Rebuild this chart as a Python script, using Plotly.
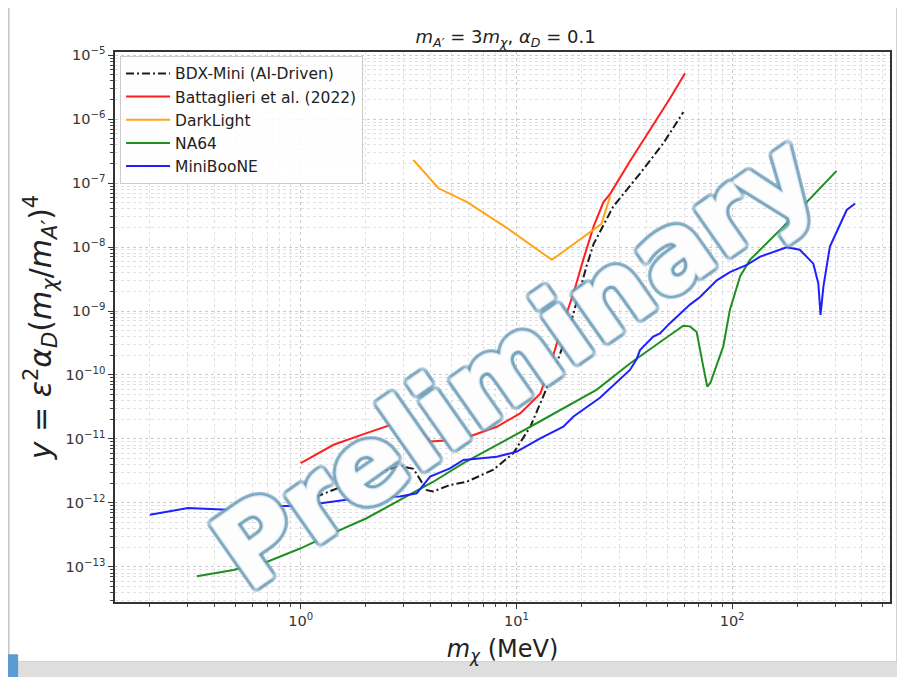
import math
import plotly.graph_objects as go

# ---------------- data ----------------
bdx_x = [1.0, 1.42, 2.02, 2.88, 3.33, 3.84, 4.12, 4.92, 5.89, 7.82, 9.68, 11.6, 12.9, 14.8,
         17.7, 21.1, 22.8, 25.3, 28.1, 37.4, 48.0, 59.4]
bdx_y = [1.0e-12, 1.58e-12, 2.57e-12, 3.8e-12, 3.4e-12, 1.58e-12, 1.51e-12, 1.9e-12, 2.14e-12,
         3.3e-12, 6.0e-12, 1.55e-11, 3.6e-11, 1.07e-10, 5.75e-10, 4.9e-9, 1.12e-8, 2.24e-8,
         4.3e-8, 1.41e-7, 4.2e-7, 1.29e-6]

bat_x = [1.0, 1.42, 2.02, 2.88, 3.33, 3.98, 4.92, 6.10, 8.11, 10.4, 12.9, 14.3, 15.9, 18.4,
         20.4, 22.8, 25.3, 27.2, 33.6, 43.2, 51.5, 60.5]
bat_y = [4.2e-12, 8.1e-12, 1.23e-11, 1.86e-11, 1.76e-11, 9.1e-12, 9.5e-12, 1.1e-11, 1.55e-11,
         2.5e-11, 5.1e-11, 1.35e-10, 4.5e-10, 1.9e-9, 6.3e-9, 2.1e-8, 5.0e-8, 6.8e-8, 2.2e-7,
         8.1e-7, 2.1e-6, 5.2e-6]

dl_x = [3.33, 4.35, 5.89, 9.02, 14.6, 22.8, 24.8, 27.2]
dl_y = [2.3e-7, 8.3e-8, 5.1e-8, 2.0e-8, 6.3e-9, 1.86e-8, 2.3e-8, 6.2e-8]

na64_x = [0.33, 0.488, 0.58, 0.70, 1.0, 1.42, 2.02, 2.88, 4.12, 5.68, 11.6, 23.6, 33.6, 48.0,
          59.4, 63.8, 68.5, 73.5, 76.7, 79.4, 84.9, 91.0, 97.7, 109, 121, 173, 305]
na64_y = [7.1e-14, 8.9e-14, 1.05e-13, 1.2e-13, 1.95e-13, 3.4e-13, 5.75e-13, 1.12e-12, 2.14e-12,
          4.17e-12, 1.55e-11, 5.9e-11, 1.51e-10, 3.55e-10, 5.9e-10, 5.75e-10, 4.7e-10, 1.35e-10,
          6.6e-11, 7.6e-11, 1.41e-10, 2.8e-10, 1.05e-9, 3.5e-9, 6.3e-9, 2.1e-8, 1.55e-7]

mb_x = [0.20, 0.30, 0.58, 0.70, 1.0, 1.42, 2.02, 2.88, 3.45, 3.98, 4.92, 5.68, 8.11, 10.0, 12.9,
        16.5, 18.4, 24.4, 33.6, 36.1, 37.4, 43.1, 46.3, 51.5, 63.8, 71.0, 84.9, 97.7, 117, 135,
        179, 206, 238, 251, 257, 265, 284, 340, 372]
mb_y = [6.5e-13, 8.3e-13, 7.5e-13, 8.9e-13, 8.9e-13, 1.05e-12, 1.23e-12, 1.26e-12, 1.41e-12,
        2.57e-12, 3.47e-12, 4.68e-12, 5.25e-12, 6.3e-12, 1.02e-11, 1.55e-11, 2.24e-11, 4.4e-11,
        1.2e-10, 1.78e-10, 2.45e-10, 3.98e-10, 4.47e-10, 6.46e-10, 1.26e-9, 1.66e-9, 3.02e-9,
        4.07e-9, 5.25e-9, 7.08e-9, 9.9e-9, 9.1e-9, 5.5e-9, 2.69e-9, 8.7e-10, 2.4e-9, 1.02e-8,
        3.8e-8, 4.8e-8]

x_tick_vals = [1, 10, 100]
x_tick_text = ["10<sup>0</sup>", "10<sup>1</sup>", "10<sup>2</sup>"]
y_exps = [-13, -12, -11, -10, -9, -8, -7, -6, -5]
y_tick_vals = [10.0 ** e for e in y_exps]
y_tick_text = ["10<sup>\u2212%d</sup>" % (-e) for e in y_exps]

x_minor = [m * 10.0 ** d for d in range(-1, 3) for m in range(2, 10)]
y_minor = [m * 10.0 ** d for d in range(-14, -4) for m in range(2, 10)]

FONT = "DejaVu Sans"
fig = go.Figure()

series = [
    ("BDX-Mini (AI-Driven)", bdx_x, bdx_y, "#1a1a1a", "8px,3px,2px,3px"),
    ("Battaglieri et al. (2022)", bat_x, bat_y, "#ff1f1f", "solid"),
    ("DarkLight", dl_x, dl_y, "#ffa51a", "solid"),
    ("NA64", na64_x, na64_y, "#1f8f1f", "solid"),
    ("MiniBooNE", mb_x, mb_y, "#1f1fff", "solid"),
]
for name, xs, ys, col, dash in series:
    fig.add_trace(go.Scatter(x=xs, y=ys, mode="lines", name=name, legendgroup=name,
                             line=dict(color=col, width=2, dash=dash)))

axis_common = dict(
    type="log", showline=True, linecolor="#333", linewidth=1.5, mirror=True,
    ticks="outside", ticklen=5, tickcolor="#333", tickwidth=1,
    showgrid=True, gridcolor="#cccccc", griddash="dot", gridwidth=1,
    tickfont=dict(family=FONT, size=14.5, color="#333"), zeroline=False,
)

fig.update_xaxes(**axis_common, range=[-0.861, 2.732], tickmode="array",
                 tickvals=x_tick_vals, ticktext=x_tick_text,
                 minor=dict(tickmode="array", tickvals=x_minor, ticks="outside", ticklen=3,
                            tickcolor="#444", showgrid=True, gridcolor="#e0e0e0", griddash="dot"),
                 title=dict(text="<i>m</i><sub><i>\u03c7</i></sub> (MeV)",
                            font=dict(family=FONT, size=24, color="#222"), standoff=12))
fig.update_yaxes(**axis_common, range=[-13.55, -4.95], tickmode="array",
                 tickvals=y_tick_vals, ticktext=y_tick_text,
                 minor=dict(tickmode="array", tickvals=y_minor, ticks="outside", ticklen=3,
                            tickcolor="#444", showgrid=True, gridcolor="#e0e0e0", griddash="dot"),
                 title=dict(text="<i>y</i> = <i>\u03b5</i><sup>2</sup><i>\u03b1</i><sub><i>D</i></sub>"
                                 "(<i>m</i><sub><i>\u03c7</i></sub>/<i>m</i><sub><i>A\u2032</i></sub>)<sup>4</sup>",
                            font=dict(family=FONT, size=30, color="#222"), standoff=5))

# outlined look for the watermark: white ring on top of a blue ring
def ring(r, n, col):
    parts = []
    for k in range(n):
        a = 2 * math.pi * k / n
        parts.append("%.2fpx %.2fpx 0px %s" % (r * math.cos(a), r * math.sin(a), col))
    return parts

shadow = ", ".join(ring(1.4, 8, "rgba(255,255,255,0.85)") +
                   ring(4.6, 16, "rgba(112,158,186,0.8)"))

# body of the page has an 8px margin; figure is sized so the plot lands where the reference has it
fig.update_layout(
    width=897, height=669,
    margin=dict(l=107, r=15, t=44, b=75),
    paper_bgcolor="white", plot_bgcolor="white",
    font=dict(family=FONT, color="#222"),
    title=dict(text="<i>m</i><sub><i>A\u2032</i></sub> = 3<i>m</i><sub><i>\u03c7</i></sub>, "
                    "<i>\u03b1</i><sub><i>D</i></sub> = 0.1",
               x=0.504, xref="paper", xanchor="center", y=1 - 29 / 669, yanchor="middle",
               font=dict(family=FONT, size=18, color="#222")),
    legend=dict(x=0.0065, y=0.993, xanchor="left", yanchor="top",
                bgcolor="rgba(255,255,255,0.85)", bordercolor="#cccccc", borderwidth=1,
                font=dict(family=FONT, size=15.5, color="#222"), itemwidth=44,
                tracegroupgap=0),
    showlegend=True,
    annotations=[dict(text="Preliminary", xref="paper", yref="paper", x=0.515, y=0.437,
                      showarrow=False, textangle=-35,
                      font=dict(family=FONT, size=108, weight="bold",
                                color="rgba(255,255,255,0.45)", shadow=shadow))],
    shapes=[
        dict(type="rect", xref="paper", yref="paper", x0=-0.137, x1=1.009, y0=-0.109, y1=1.083,
             line=dict(color="#c4c4c4", width=1.5), fillcolor="rgba(0,0,0,0)", layer="below"),
        dict(type="rect", xref="paper", yref="paper", x0=-0.2, x1=1.2, y0=-0.16, y1=-0.109,
             line=dict(width=0), fillcolor="#dedede", layer="below"),
        dict(type="rect", xref="paper", yref="paper", x0=-0.2, x1=-0.125, y0=-0.16, y1=-0.095,
             line=dict(width=0), fillcolor="#5b9bd5", layer="below"),
    ],
)

fig.write_html("out.html")
